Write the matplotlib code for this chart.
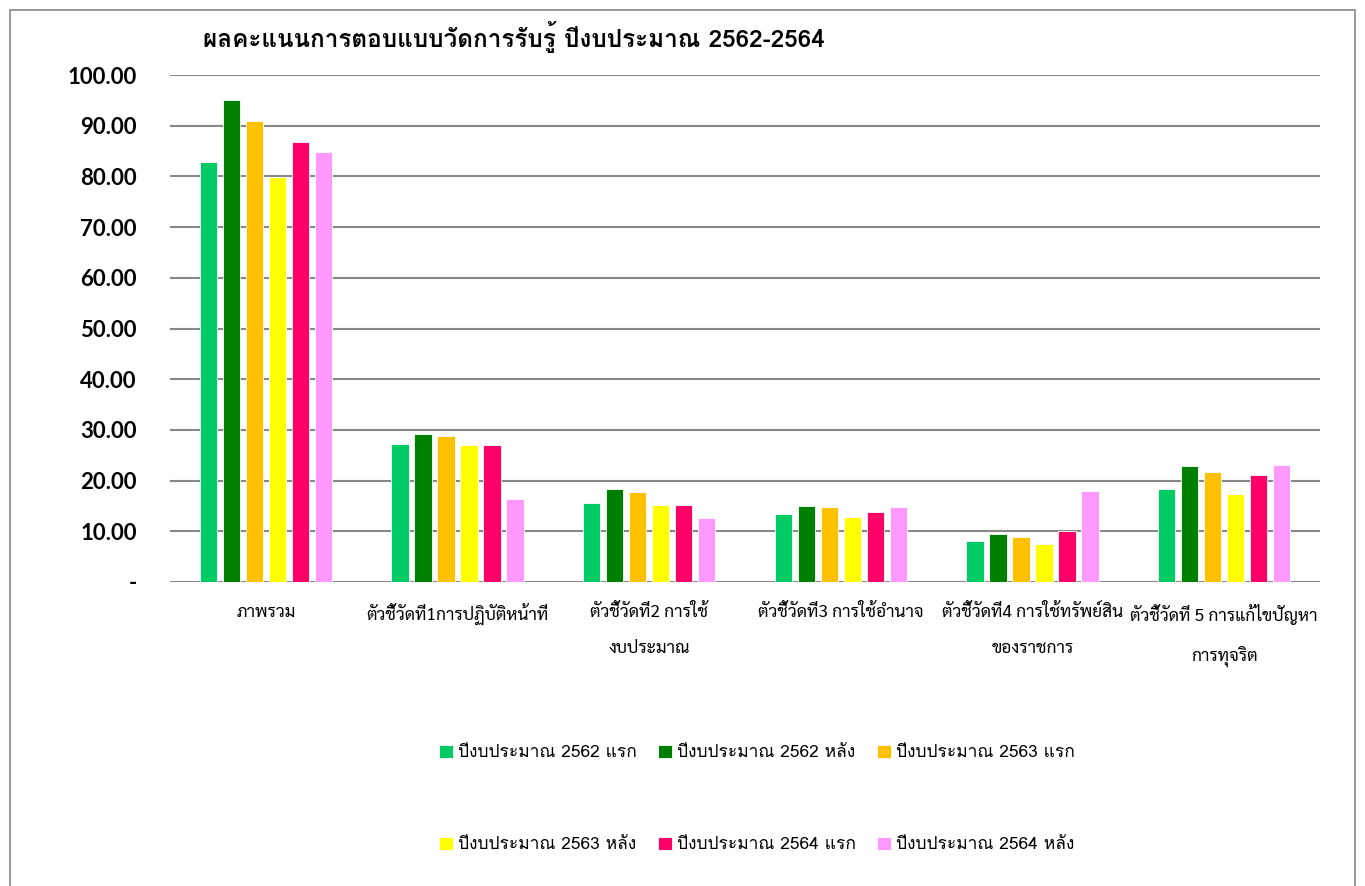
import matplotlib
matplotlib.use("Agg")
import matplotlib.pyplot as plt
import numpy as np
from matplotlib import font_manager, ft2font
from matplotlib.patches import Rectangle

categories = ["ภาพรวม", "ตัวชี้วัดที่1การปฏิบัติหน้าที่", "ตัวชี้วัดที่2 การใช้\nงบประมาณ",
              "ตัวชี้วัดที่3 การใช้อำนาจ", "ตัวชี้วัดที่4 การใช้ทรัพย์สิน\nของราชการ",
              "ตัวชี้วัดที่ 5 การแก้ไขปัญหา\nการทุจริต"]
series_names = ["ปีงบประมาณ 2562 แรก", "ปีงบประมาณ 2562 หลัง", "ปีงบประมาณ 2563 แรก",
                "ปีงบประมาณ 2563 หลัง", "ปีงบประมาณ 2564 แรก", "ปีงบประมาณ 2564 หลัง"]
y2562_first = [82.8, 27.3, 15.5, 13.5, 8.0, 18.3]
y2562_second = [95.1, 29.2, 18.4, 15.0, 9.4, 22.8]
y2563_first = [90.9, 28.7, 17.8, 14.7, 8.9, 21.6]
y2563_second = [79.9, 27.0, 15.2, 12.8, 7.4, 17.4]
y2564_first = [86.8, 27.0, 15.1, 13.8, 10.0, 21.1]
y2564_second = [84.8, 16.3, 12.7, 14.8, 17.9, 23.0]
colors = ["#00CC66", "#008000", "#FFC000", "#FFFF00", "#FF0066", "#FF99FF"]
title = "ผลคะแนนการตอบแบบวัดการรับรู้ ปีงบประมาณ 2562-2564"

# fonts that have Thai glyphs
thai = []
for f in font_manager.fontManager.ttflist:
    try:
        cmap = ft2font.FT2Font(f.fname).get_charmap()
    except Exception:
        continue
    if 0x0E01 in cmap and f.name not in thai:
        thai.append(f.name)


def pick(*names):
    for n in names:
        if n in thai:
            return [n, 'DejaVu Sans']
    return thai[:1] + ['DejaVu Sans']


plt.rcParams['font.family'] = pick("Loma", "Noto Sans Thai")
cat_font = pick("Sarabun", "Noto Sans Thai")

series = [y2562_first, y2562_second, y2563_first, y2563_second, y2564_first, y2564_second]

fig = plt.figure(figsize=(13.65, 8.86), dpi=100)
ax = fig.add_axes([170 / 1365, 1 - 582 / 886, 1150 / 1365, 507 / 886])

x = np.arange(len(categories))
step = 0.12
width = 0.09
bars = []
for i, (vals, name, c) in enumerate(zip(series, series_names, colors)):
    b = ax.bar(x + (i - 2.5) * step, vals, width, color=c, edgecolor="white",
               linewidth=0.6, label=name, zorder=3)
    bars.append(b)

ax.set_xlim(-0.5, len(categories) - 0.5)
ax.set_ylim(0, 100)
ax.set_yticks(np.arange(0, 101, 10))
ax.set_yticklabels(["-"] + ["%.2f" % v for v in range(10, 101, 10)],
                   fontsize=16, fontweight="bold", family=["Lato", "DejaVu Sans"])
ax.set_xticks(x)
ax.set_xticklabels(categories, fontsize=12.5, linespacing=2.45, va="top", family=cat_font)
ax.tick_params(axis="y", length=0, pad=24)
ax.tick_params(axis="x", length=0, pad=16)
ax.grid(axis="y", color="#888888", linewidth=1.5, zorder=0)
for s in ax.spines.values():
    s.set_visible(False)

fig.text(203 / 1365, 1 - 37 / 886, title, fontsize=17.5, fontweight="bold",
         ha="left", va="center")

order = [0, 3, 1, 4, 2, 5]
fig.legend([bars[i] for i in order], [series_names[i] for i in order],
           ncol=3, loc="center", bbox_to_anchor=(757 / 1365, 1 - 799 / 886),
           frameon=False, fontsize=12.5, labelspacing=4.35, handlelength=0.8,
           handleheight=0.8, handletextpad=0.3, columnspacing=1.2)

fig.patches.append(Rectangle((10 / 1365, -0.01), 1345 / 1365, 1 - 10 / 886 + 0.01,
                             transform=fig.transFigure, fill=False,
                             edgecolor="#888888", linewidth=1.2))

fig.savefig("out.png", dpi=100)
